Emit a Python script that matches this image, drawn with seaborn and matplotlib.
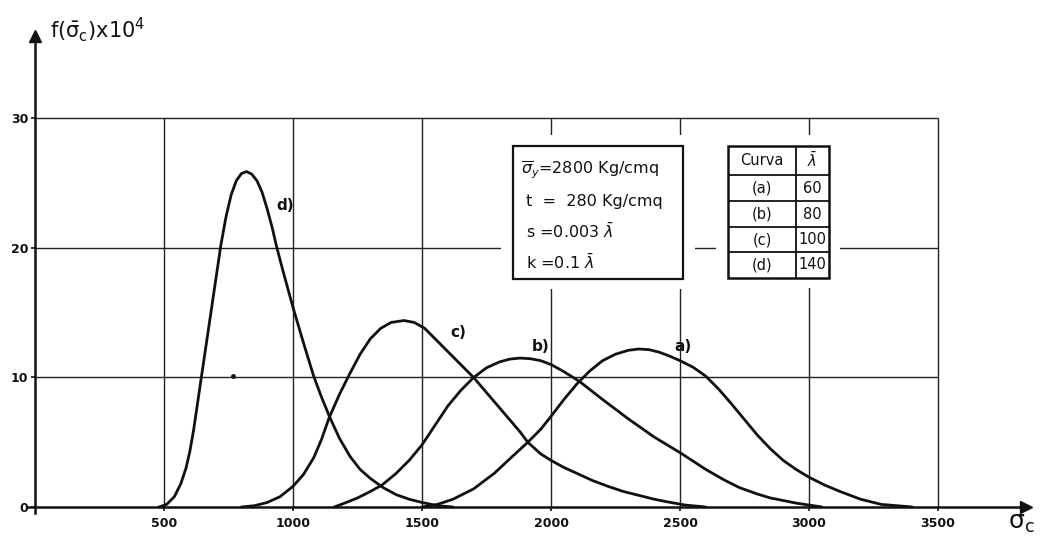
import matplotlib.pyplot as plt
import matplotlib.patches as mpatches
import numpy as np
import pandas as pd
import seaborn as sns

# values (sigma_c in Kg/cmq, f x 10^4)
a_x = [1500, 1560, 1620, 1700, 1780, 1850, 1910, 1960, 2000, 2050, 2100, 2150, 2200,
       2250, 2300, 2340, 2380, 2420, 2460, 2500, 2550, 2600, 2650, 2700, 2750, 2800,
       2850, 2900, 2950, 3000, 3060, 3120, 3200, 3280, 3400]
a_y = [0.0, 0.2, 0.6, 1.4, 2.6, 3.9, 5.0, 6.0, 7.0, 8.3, 9.5, 10.5, 11.3,
       11.8, 12.1, 12.2, 12.15, 11.95, 11.65, 11.3, 10.8, 10.1, 9.1, 7.95, 6.75, 5.55,
       4.5, 3.6, 2.9, 2.3, 1.7, 1.2, 0.6, 0.2, 0.0]

b_x = [1160, 1200, 1250, 1300, 1345, 1400, 1450, 1500, 1550, 1600, 1650, 1700, 1750,
       1800, 1840, 1880, 1920, 1960, 2000, 2050, 2110, 2200, 2300, 2400, 2500, 2600,
       2670, 2730, 2800, 2850, 2950, 3000, 3050]
b_y = [0.0, 0.3, 0.7, 1.2, 1.7, 2.6, 3.6, 4.8, 6.3, 7.8, 9.0, 10.0, 10.75,
       11.2, 11.42, 11.5, 11.45, 11.3, 11.0, 10.45, 9.7, 8.3, 6.8, 5.4, 4.2, 2.9,
       2.1, 1.5, 1.0, 0.7, 0.3, 0.15, 0.0]

c_x = [800, 850, 900, 950, 1000, 1040, 1080, 1110, 1140, 1180, 1220, 1260, 1300,
       1340, 1380, 1430, 1470, 1510, 1550, 1600, 1650, 1700, 1760, 1820, 1880, 1910,
       1960, 2000, 2050, 2100, 2160, 2220, 2280, 2340, 2400, 2450, 2520, 2600]
c_y = [0.0, 0.1, 0.35, 0.8, 1.6, 2.5, 3.8, 5.2, 6.9, 8.7, 10.3, 11.8, 13.0,
       13.8, 14.25, 14.4, 14.25, 13.8, 13.0, 12.0, 11.0, 10.0, 8.6, 7.2, 5.8, 5.0,
       4.1, 3.6, 3.05, 2.6, 2.05, 1.6, 1.2, 0.9, 0.6, 0.4, 0.15, 0.0]

d_x = [480, 510, 540, 565, 585, 600, 615, 640, 660, 680, 700, 720, 740, 760, 780,
       800, 820, 840, 860, 880, 900, 920, 935, 960, 1000, 1040, 1080, 1110, 1143,
       1180, 1221, 1260, 1300, 1349, 1400, 1450, 1500, 1560, 1620]
d_y = [0.0, 0.2, 0.8, 1.8, 3.0, 4.3, 6.0, 9.4, 12.1, 14.8, 17.5, 20.2, 22.4, 24.1, 25.2,
       25.75, 25.9, 25.7, 25.2, 24.3, 23.0, 21.5, 20.2, 18.3, 15.4, 12.7, 10.1, 8.5, 6.9,
       5.3, 3.9, 2.9, 2.2, 1.5, 0.95, 0.6, 0.35, 0.1, 0.0]

curve_names = ["a)", "b)", "c)", "d)"]
label_pos = [(2480, 12.4), (1925, 12.4), (1610, 13.5), (935, 23.3)]

x_ticks = [500, 1000, 1500, 2000, 2500, 3000, 3500]
y_ticks = [0, 10, 20, 30]

box_lines = [r"$\overline{\sigma}_y$=2800 Kg/cmq",
             r" t  =  280 Kg/cmq",
             r" s =0.003 $\bar{\lambda}$",
             r" k =0.1 $\bar{\lambda}$"]
table_head = ["Curva", r"$\bar{\lambda}$"]
table_curve = ["(a)", "(b)", "(c)", "(d)"]
table_lambda = ["60", "80", "100", "140"]

df = pd.concat([
    pd.DataFrame({"sigma": a_x, "f": a_y, "curva": "a"}),
    pd.DataFrame({"sigma": b_x, "f": b_y, "curva": "b"}),
    pd.DataFrame({"sigma": c_x, "f": c_y, "curva": "c"}),
    pd.DataFrame({"sigma": d_x, "f": d_y, "curva": "d"}),
])

sns.set_theme(style="white")
plt.rcParams["font.family"] = ["DejaVu Sans"]
plt.rcParams["mathtext.fontset"] = "dejavusans"

fig = plt.figure(figsize=(10.44, 5.36), dpi=100)
ax = fig.add_axes([0, 0, 1, 1])
ax.set_xlim(-136, 3911)
ax.set_ylim(-2.24, 39.15)

ink = "#111111"

# grid, drawn only inside 0..3500 x 0..30
ax.hlines([10, 20, 30], 0, 3500, color="#222222", lw=1.0, zorder=1)
ax.vlines(x_ticks, 0, 30, color="#222222", lw=1.0, zorder=1)

sns.lineplot(data=df, x="sigma", y="f", units="curva", estimator=None, sort=False,
             color=ink, lw=2.0, ax=ax, legend=False, zorder=3)

for name, (lx, ly) in zip(curve_names, label_pos):
    ax.text(lx, ly, name, fontsize=11, fontweight="bold", color=ink,
            ha="left", va="center", zorder=4)

# stray ink dot from the scan
ax.plot([767], [10.1], "o", ms=2.5, color=ink, zorder=4)

# axes with arrows
for side in ["top", "right"]:
    ax.spines[side].set_visible(False)
ax.spines["left"].set_position(("data", 0))
ax.spines["bottom"].set_position(("data", 0))
ax.spines["left"].set_bounds(-0.5, 36.0)
ax.spines["bottom"].set_bounds(-30, 3820)
for side in ["left", "bottom"]:
    ax.spines[side].set_linewidth(1.8)
    ax.spines[side].set_color(ink)
ax.plot([0], [36.4], marker="^", ms=9, color=ink, clip_on=False)
ax.plot([3840], [0], marker=">", ms=9, color=ink, clip_on=False)

ax.set_xticks(x_ticks)
ax.set_yticks(y_ticks)
ax.tick_params(axis="x", direction="out", length=3, width=1.2, pad=4,
               labelsize=9, colors=ink, bottom=True)
ax.tick_params(axis="y", direction="out", length=3, width=1.2, pad=2,
               labelsize=9, colors=ink, left=True)
for lab in ax.get_xticklabels() + ax.get_yticklabels():
    lab.set_fontweight("bold")
ax.set_xlabel("")
ax.set_ylabel("")

ax.text(58, 36.9, r"f($\mathrm{\bar{\sigma}_c}$)x10$^4$", fontsize=15, color=ink,
        ha="left", va="center")
ax.text(3770, -2.15, r"$\mathrm{\sigma_c}$", fontsize=18, color=ink,
        ha="left", va="bottom")

# parameter box
ax.add_patch(mpatches.Rectangle((1805, 16.8), 755, 11.9, fc="white", ec="none", zorder=5))
ax.add_patch(mpatches.Rectangle((1853, 17.6), 659, 10.3, fc="white", ec=ink,
                                lw=1.6, zorder=6))
for yy, line in zip([26.0, 23.6, 21.3, 18.9], box_lines):
    ax.text(1885, yy, line, fontsize=11.5, color=ink, ha="left", va="center", zorder=7)

# table of curves
tx0, tx1, tx2 = 2686, 2950, 3077
rows = [27.9, 25.6, 23.6, 21.6, 19.7, 17.7]
ax.add_patch(mpatches.Rectangle((tx0 - 45, rows[-1] - 0.8), tx2 - tx0 + 90,
                                rows[0] - rows[-1] + 1.6, fc="white", ec="none", zorder=5))
ax.add_patch(mpatches.Rectangle((tx0, rows[-1]), tx2 - tx0, rows[0] - rows[-1],
                                fc="white", ec=ink, lw=1.8, zorder=6))
ax.hlines(rows[1:-1], tx0, tx2, color=ink, lw=1.3, zorder=7)
ax.vlines([tx1], rows[-1], rows[0], color=ink, lw=1.3, zorder=7)
cells = [table_head] + [[c, l] for c, l in zip(table_curve, table_lambda)]
for i, (c1, c2) in enumerate(cells):
    yc = (rows[i] + rows[i + 1]) / 2
    ax.text((tx0 + tx1) / 2, yc, c1, fontsize=10.5, color=ink, ha="center",
            va="center", zorder=8)
    ax.text((tx1 + tx2) / 2, yc, c2, fontsize=10.5, color=ink, ha="center",
            va="center", zorder=8)

fig.savefig("out.png", dpi=100)
